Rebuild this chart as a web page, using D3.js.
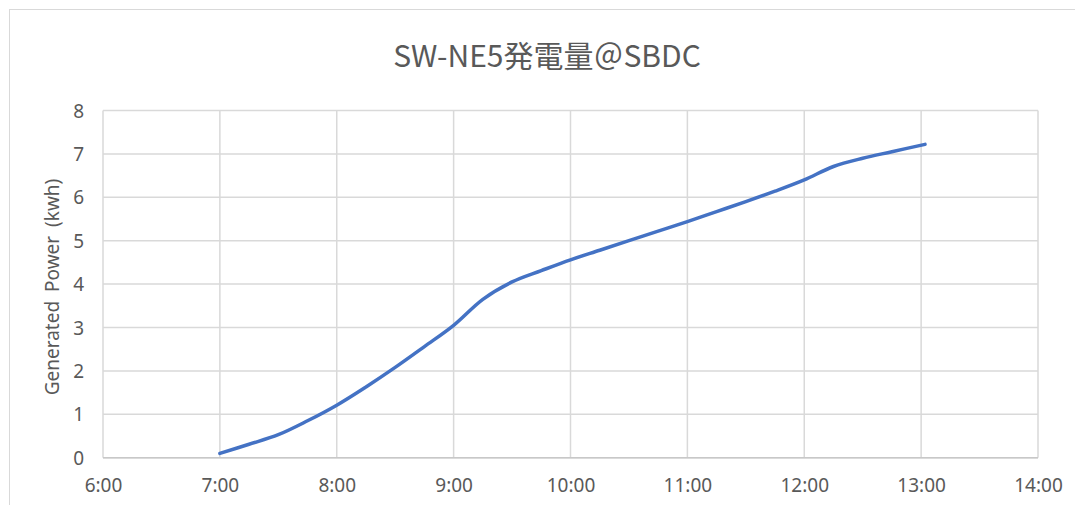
<!DOCTYPE html>
<html>
<head>
<meta charset="utf-8">
<script src="https://cdn.jsdelivr.net/npm/d3@7/dist/d3.min.js"></script>
<style>
  html, body { margin: 0; padding: 0; background: #fff; }
  svg { display: block; }
</style>
</head>
<body>
<svg id="chart" width="1075" height="505"></svg>
<script>
// Cumulative generated power, sampled through the morning (minutes since midnight)
const times = [420, 435, 450, 465, 480, 495, 510, 525, 540, 555, 570, 585, 600,
               615, 630, 645, 660, 675, 690, 705, 720, 735, 750, 765, 782];
const power = [0.10, 0.31, 0.53, 0.85, 1.21, 1.63, 2.08, 2.56, 3.05, 3.65, 4.05, 4.31, 4.56,
               4.78, 5.00, 5.22, 5.44, 5.67, 5.90, 6.14, 6.40, 6.71, 6.90, 7.05, 7.22];
const xTicks = [360, 420, 480, 540, 600, 660, 720, 780, 840];
const xTickLabels = ["6:00", "7:00", "8:00", "9:00", "10:00", "11:00", "12:00", "13:00", "14:00"];
const yTicks = [0, 1, 2, 3, 4, 5, 6, 7, 8];
const titleText = "SW-NE5発電量＠SBDC";
const yTitle = "Generated Power (kwh)";

const svg = d3.select("#chart");
const font = "'Noto Sans', 'Liberation Sans', sans-serif";
const textColor = "#595959";
const gridColor = "#d9d9d9";

// Chart frame
svg.append("rect")
  .attr("x", 9.5).attr("y", 9.5)
  .attr("width", 1085).attr("height", 520)
  .attr("fill", "#fff").attr("stroke", gridColor).attr("stroke-width", 1);

const plot = { left: 103, right: 1038, top: 110.5, bottom: 457.7 };

const x = d3.scaleLinear().domain([360, 840]).range([plot.left, plot.right]);
const y = d3.scaleLinear().domain([0, 8]).range([plot.bottom, plot.top]);

// Horizontal gridlines
svg.append("g")
  .selectAll("line")
  .data(yTicks)
  .join("line")
  .attr("x1", plot.left).attr("x2", plot.right)
  .attr("y1", d => y(d)).attr("y2", d => y(d))
  .attr("stroke", gridColor).attr("stroke-width", 1.5);

// Vertical gridlines
svg.append("g")
  .selectAll("line")
  .data(xTicks)
  .join("line")
  .attr("x1", d => x(d)).attr("x2", d => x(d))
  .attr("y1", plot.top).attr("y2", plot.bottom)
  .attr("stroke", gridColor).attr("stroke-width", 1.5);

// Bottom axis line
svg.append("line")
  .attr("x1", plot.left).attr("x2", plot.right)
  .attr("y1", plot.bottom).attr("y2", plot.bottom)
  .attr("stroke", "#c8c8c8").attr("stroke-width", 1.5);

// Y tick labels
const yAxis = d3.axisLeft(y).tickValues(yTicks).tickSize(0).tickPadding(0).tickFormat(d3.format("d"));
const yg = svg.append("g").attr("transform", `translate(${plot.left - 19},0)`).call(yAxis);
yg.select(".domain").remove();
yg.selectAll("text")
  .attr("font-family", font).attr("font-size", 19).attr("fill", textColor)
  .attr("dy", "0.35em");

// X tick labels
const xAxis = d3.axisBottom(x).tickValues(xTicks).tickSize(0).tickPadding(0)
  .tickFormat((d, i) => xTickLabels[i]);
const xg = svg.append("g").attr("transform", `translate(0,${plot.bottom + 21})`).call(xAxis);
xg.select(".domain").remove();
xg.selectAll("text")
  .attr("font-family", font).attr("font-size", 19).attr("fill", textColor)
  .attr("dy", "0.71em");

// Series line
const data = times.map((t, i) => ({ t, v: power[i] }));
svg.append("path")
  .datum(data)
  .attr("fill", "none")
  .attr("stroke", "#4472c4")
  .attr("stroke-width", 3.5)
  .attr("stroke-linecap", "round")
  .attr("stroke-linejoin", "round")
  .attr("d", d3.line().x(d => x(d.t)).y(d => y(d.v)).curve(d3.curveCatmullRom.alpha(0.5)));

// Title
svg.append("text")
  .attr("x", 547).attr("y", 67)
  .attr("text-anchor", "middle")
  .attr("font-family", "'Noto Sans CJK JP', 'Noto Sans', sans-serif")
  .attr("font-size", 30)
  .attr("fill", textColor)
  .text(titleText);

// Y axis title
svg.append("text")
  .attr("transform", "translate(59,287) rotate(-90)")
  .attr("text-anchor", "middle")
  .attr("font-family", font)
  .attr("font-size", 19)
  .attr("word-spacing", 4)
  .attr("fill", textColor)
  .text(yTitle);
</script>
</body>
</html>
